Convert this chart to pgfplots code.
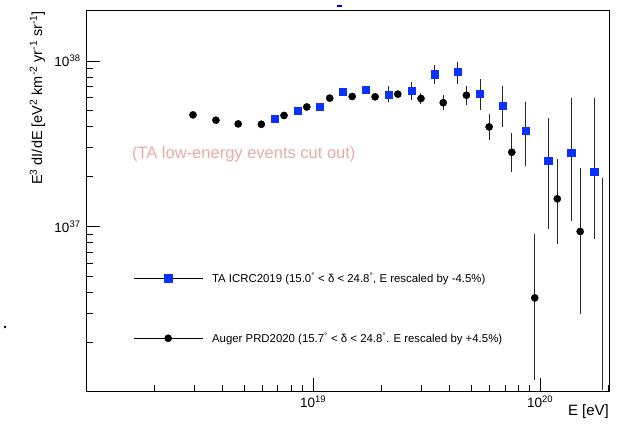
\documentclass[border=0pt]{standalone}
\usepackage{fontspec}
\setmainfont{Liberation Sans}
\usepackage{pgfplots}
\usepackage{pgfplotstable}
\pgfplotsset{compat=1.18}

\definecolor{tablue}{RGB}{10,50,255}
\definecolor{cutpink}{RGB}{232,172,162}

% TA ICRC2019, E rescaled by -4.5%
\pgfplotstableread{
x        y        ep       em
6.79e18  4.50e37  0        0
8.53e18  5.02e37  0        0
1.069e19 5.30e37  0        0
1.355e19 6.52e37  0        0
1.706e19 6.74e37  0        0
2.153e19 6.26e37  0.58e37  0.45e37
2.723e19 6.62e37  0.64e37  0.62e37
3.428e19 8.34e37  0.86e37  0.84e37
4.315e19 8.58e37  1.01e37  1.15e37
5.433e19 6.34e37  1.23e37  1.17e37
6.839e19 5.37e37  1.47e37  1.28e37
8.630e19 3.80e37  1.74e37  1.42e37
1.084e20 2.51e37  1.87e37  1.52e37
1.368e20 2.80e37  3.02e37  1.69e37
1.730e20 2.15e37  3.65e37  1.29e37
}\tadata

% Auger PRD2020, E rescaled by +4.5%
\pgfplotstableread{
x        y        ep       em
2.958e18 4.73e37  0        0
3.733e18 4.39e37  0        0
4.677e18 4.17e37  0        0
5.916e18 4.15e37  0        0
7.447e18 4.69e37  0        0
9.376e18 5.28e37  0        0
1.183e19 5.97e37  0        0
1.486e19 6.11e37  0        0
1.875e19 6.08e37  0        0
2.360e19 6.31e37  0        0
2.985e19 5.94e37  0.34e37  0.32e37
3.741e19 5.60e37  0.48e37  0.43e37
4.732e19 6.22e37  0.62e37  0.63e37
5.957e19 4.00e37  0.64e37  0.57e37
7.499e19 2.81e37  0.74e37  0.60e37
9.462e19 3.70e36  5.09e36  2.49e36
1.189e20 1.47e37  1.01e37  0.659e37
1.500e20 9.33e36  1.277e37 0.630e37
}\augerdata

% last Auger bin: only its error bar is visible
\pgfplotstableread{
x        y        ep       em
1.888e20 4.47e36  1.453e37 0.342e37
}\augerlast

\begin{document}
\begin{tikzpicture}
\useasboundingbox (-86pt,-33pt) rectangle (541pt,392pt);
\begin{axis}[
  at={(0pt,0pt)}, anchor=south west,
  scale only axis, width=523pt, height=381pt,
  xmode=log, ymode=log,
  xmin=1e18, xmax=2.01e20, ymin=1e36, ymax=2.01e38,
  axis line style={line width=0.9pt},
  tick align=inside, xtick pos=left, ytick pos=left,
  xtick={1e19,1e20}, xticklabels={10\textsuperscript{19},10\textsuperscript{20}},
  ytick={1e37,1e38}, yticklabels={10\textsuperscript{37},10\textsuperscript{38}},
  minor xtick={2e18,3e18,4e18,5e18,6e18,7e18,8e18,9e18,2e19,3e19,4e19,5e19,6e19,7e19,8e19,9e19,2e20},
  minor ytick={2e36,3e36,4e36,5e36,6e36,7e36,8e36,9e36,2e37,3e37,4e37,5e37,6e37,7e37,8e37,9e37},
  major tick length=14pt, minor tick length=7pt,
  tick style={black, line width=0.9pt},
  ticklabel style={font=\fontsize{13.5}{13.5}\selectfont},
  yticklabel style={xshift=-2pt},
  xlabel={E [eV]},
  xlabel style={font=\fontsize{15}{15}\selectfont, at={(axis description cs:1,-0.034)}, anchor=north east, inner sep=0pt},
  ylabel={E\textsuperscript{3} dI/dE [eV\textsuperscript{2} km\textsuperscript{-2} yr\textsuperscript{-1} sr\textsuperscript{-1}]},
  ylabel style={font=\fontsize{14.5}{14.5}\selectfont, at={(axis description cs:-0.078,1)}, anchor=south east, inner sep=0pt},
  legend cell align=left, reverse legend,
  legend style={draw=none, fill=none, inner sep=0pt, at={(axis description cs:0.0899,0.2196)}, anchor=west,
    font=\fontsize{11.4}{12}\selectfont, row sep=45pt,
    nodes={inner xsep=9pt}},
  error bars/error bar style={black!85, line width=1pt},
  error bars/error mark options={black!85, mark size=2pt, line width=1pt},
]
\addplot[only marks, mark=*, mark size=3.6pt, color=black,
  legend image code/.code={\draw[black, line width=0.8pt] (0pt,0pt) -- (69pt,0pt);
    \draw plot coordinates {(34.5pt,0pt)};},
  error bars/.cd, y dir=both, y explicit]
  table[x=x, y=y, y error plus=ep, y error minus=em] {\augerdata};
\addlegendentry{Auger PRD2020 (15.7\textsuperscript{°} < δ < 24.8\textsuperscript{°}. E rescaled by +4.5\%)}
\addplot[only marks, mark=square*, mark size=3.6pt, color=tablue,
  legend image code/.code={\draw[black, line width=0.8pt] (0pt,0pt) -- (69pt,0pt);
    \draw plot coordinates {(34.5pt,0pt)};},
  error bars/.cd, y dir=both, y explicit]
  table[x=x, y=y, y error plus=ep, y error minus=em] {\tadata};
\addlegendentry{TA ICRC2019 (15.0\textsuperscript{°} < δ < 24.8\textsuperscript{°}, E rescaled by -4.5\%)}
\addplot[only marks, color=black, mark=*, mark size=0.01pt,
  mark options={draw opacity=0, fill opacity=0}, forget plot,
  error bars/.cd, y dir=both, y explicit]
  table[x=x, y=y, y error plus=ep, y error minus=em] {\augerlast};
\node[font=\fontsize{16.5}{16.5}\selectfont, text=cutpink, anchor=base west, inner sep=0pt]
  at (axis description cs:0.0876,0.6134) {(TA low-energy events cut out)};
\end{axis}
\fill[black] (-81pt,65pt) circle (1.3pt);
\fill[blue] (251pt,385pt) rectangle (256pt,387.3pt);
\end{tikzpicture}
\end{document}
